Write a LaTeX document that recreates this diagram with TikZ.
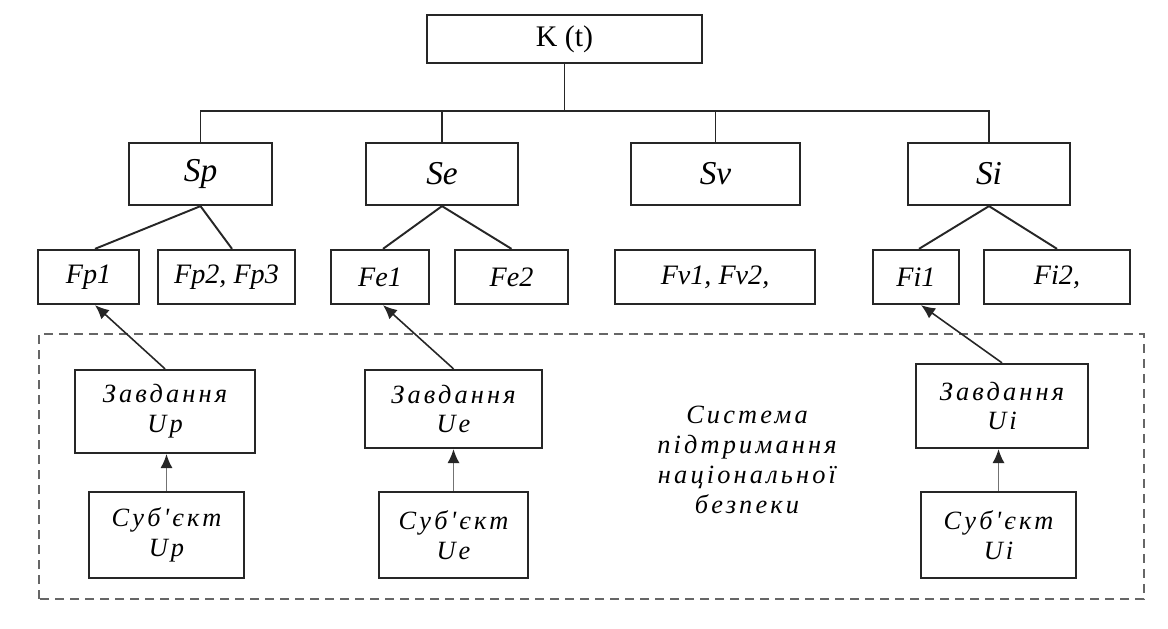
\documentclass[tikz,border=0pt]{standalone}
\usepackage{fontspec}
\setmainfont{Liberation Serif}
\newfontfamily\ukrfont[LetterSpace=12]{Liberation Serif}
\usetikzlibrary{calc,arrows.meta}

\begin{document}
\begin{tikzpicture}[
    block/.style={draw=black!85, line width=1.3pt, inner sep=2pt},
    link/.style={draw=black!85, line width=1.1pt},
    up/.style={draw=black!55, line width=0.9pt, -{Latex[length=8pt,width=7pt,black!85]}},
    slant/.style={draw=black!85, line width=0.9pt, -{Latex[length=8pt,width=7pt]}},
    ltr/.style={font=\fontsize{16}{18}\selectfont\itshape},
    ukr/.style={font=\ukrfont\fontsize{15}{17}\selectfont\itshape, align=center}
  ]

% Frame of the page
\useasboundingbox (0,0) rectangle (23.36,12.56);

% Top node
\node[block, minimum width=5.5cm, minimum height=0.96cm, font=\fontsize{17}{19}\selectfont] (k) at (11.29,11.78) {K (t)};

% Subsystems
\node[block, minimum width=2.86cm, minimum height=1.24cm, font=\fontsize{19}{21}\selectfont\itshape] (sp) at (4.01,9.08) {Sp};
\node[block, minimum width=3.04cm, minimum height=1.24cm, font=\fontsize{19}{21}\selectfont\itshape] (se) at (8.84,9.08) {Se};
\node[block, minimum width=3.38cm, minimum height=1.24cm, font=\fontsize{19}{21}\selectfont\itshape] (sv) at (14.31,9.08) {Sv};
\node[block, minimum width=3.24cm, minimum height=1.24cm, font=\fontsize{19}{21}\selectfont\itshape] (si) at (19.78,9.08) {Si};

% Bus between the levels
\coordinate (bus) at (0,10.34);
\draw[link] (k.south) -- (k.south |- bus);
\draw[link] (sp.north) -- (sp.north |- bus) -- (si.north |- bus) -- (si.north);
\draw[link] (se.north) -- (se.north |- bus);
\draw[link] (sv.north) -- (sv.north |- bus);

% Factors
\node[block, ltr, minimum width=2.02cm, minimum height=1.08cm] (fpa) at (1.77,7.02) {Fp1};
\node[block, ltr, minimum width=2.74cm, minimum height=1.08cm] (fpb) at (4.53,7.02) {Fp2, Fp3};
\node[block, ltr, minimum width=1.96cm, minimum height=1.08cm] (fea) at (7.60,7.02) {Fe1};
\node[block, ltr, minimum width=2.26cm, minimum height=1.08cm] (feb) at (10.23,7.02) {Fe2};
\node[block, ltr, minimum width=4.00cm, minimum height=1.08cm] (fv) at (14.30,7.02) {Fv1, Fv2,};
\node[block, ltr, minimum width=1.72cm, minimum height=1.08cm] (fia) at (18.32,7.02) {Fi1};
\node[block, ltr, minimum width=2.92cm, minimum height=1.08cm] (fib) at (21.14,7.02) {Fi2,};

% Subsystems to factors
\draw[link] (sp.south) -- ($(fpa.north)+(0.13,0)$);
\draw[link] (sp.south) -- ($(fpb.north)+(0.11,0)$);
\draw[link] (se.south) -- ($(fea.north)+(0.06,0)$);
\draw[link] (se.south) -- (feb.north);
\draw[link] (si.south) -- ($(fia.north)+(0.06,0)$);
\draw[link] (si.south) -- (fib.north);

% Support system frame
\draw[draw=black!60, line width=1.5pt, dash pattern=on 0.18cm off 0.12cm] (0.78,0.58) rectangle (22.88,5.88);

% Tasks
\node[block, ukr, minimum width=3.60cm, minimum height=1.66cm] (zup) at (3.30,4.33) {Завдання\\Up};
\node[block, ukr, minimum width=3.54cm, minimum height=1.56cm] (zue) at (9.07,4.38) {Завдання\\Ue};
\node[block, ukr, minimum width=3.44cm, minimum height=1.68cm] (zui) at (20.04,4.44) {Завдання\\Ui};

% Subjects
\node[block, ukr, minimum width=3.10cm, minimum height=1.72cm] (subp) at (3.33,1.86) {Суб'єкт\\Up};
\node[block, ukr, minimum width=2.98cm, minimum height=1.72cm] (sube) at (9.07,1.86) {Суб'єкт\\Ue};
\node[block, ukr, minimum width=3.10cm, minimum height=1.72cm] (subi) at (19.97,1.86) {Суб'єкт\\Ui};

% Arrows
\draw[slant] (zup.north) -- ($(fpa.south)+(0.13,0)$);
\draw[slant] (zue.north) -- ($(fea.south)+(0.06,0)$);
\draw[slant] (zui.north) -- ($(fia.south)+(0.10,0)$);
\draw[up] (subp.north) -- (subp.north |- zup.south);
\draw[up] (sube.north) -- (zue.south);
\draw[up] (subi.north) -- (subi.north |- zui.south);

% Label of the frame
\node[ukr] (sys) at (14.94,3.36) {Система\\підтримання\\національної\\безпеки};

\end{tikzpicture}
\end{document}
